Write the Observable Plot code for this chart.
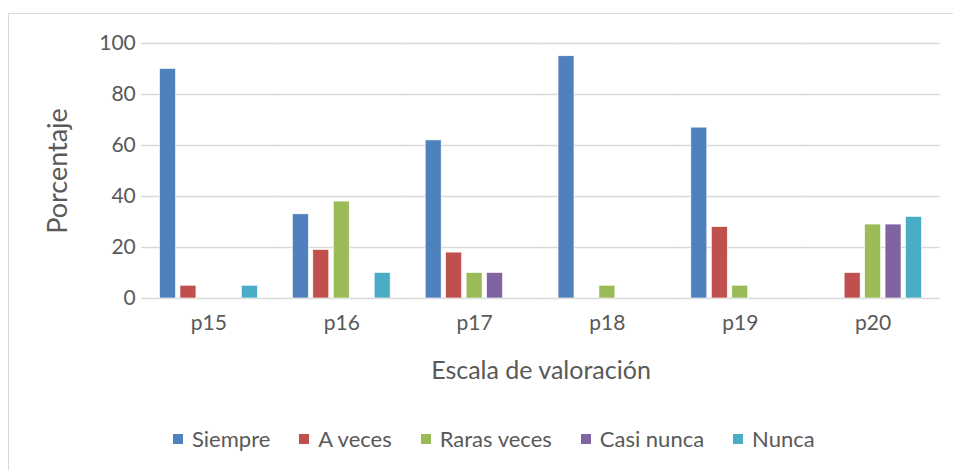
<!DOCTYPE html>
<html><head><meta charset="utf-8">
<script src="https://cdn.jsdelivr.net/npm/d3@7"></script>
<script src="https://cdn.jsdelivr.net/npm/@observablehq/plot@0.6"></script>
<style>
body{margin:0;background:#fff;font-family:Lato,"Noto Sans",sans-serif;}
#wrap{position:relative;width:953px;height:470px;overflow:hidden;}
#frame{position:absolute;left:8px;top:13px;width:1000px;height:500px;border:1.5px solid #d9d9d9;box-sizing:border-box;}
#chart{position:absolute;left:0;top:0;}
#legend{position:absolute;left:173px;top:425px;display:flex;font-size:22px;color:#595959;}
#legend .it{display:flex;align-items:center;margin-right:29px;}
#legend .sw{width:10px;height:10px;margin-right:9px;}
</style></head>
<body><div id="wrap"><div id="frame"></div><div id="chart"></div><div id="legend"></div></div>
<script>
const categories = ["p15","p16","p17","p18","p19","p20"];
const seriesNames = ["Siempre","A veces","Raras veces","Casi nunca","Nunca"];
const siempre    = [90, 33, 62, 95, 67, 0];
const aVeces     = [5, 19, 18, 0, 28, 10];
const rarasVeces = [0, 38, 10, 5, 5, 29];
const casiNunca  = [0, 0, 10, 0, 0, 29];
const nunca      = [5, 10, 0, 0, 0, 32];
const yTicks = [0, 20, 40, 60, 80, 100];
const colors = ["#4F81BD","#C0504D","#9BBB59","#8064A2","#4BACC6"];

const seriesValues = [siempre, aVeces, rarasVeces, casiNunca, nunca];
const data = [];
categories.forEach((c, i) => seriesNames.forEach((s, j) => data.push({cat: c, series: s, value: seriesValues[j][i]})));

const plot = Plot.plot({
  width: 953, height: 400,
  marginLeft: 142, marginRight: 14, marginTop: 43, marginBottom: 102,
  style: {fontFamily: "Lato, 'Noto Sans', sans-serif", fontSize: "21px", color: "#595959", background: "transparent"},
  fx: {domain: categories, paddingInner: 0.23, paddingOuter: 0.115, round: false, axis: null},
  x: {domain: seriesNames, paddingInner: 0.22, paddingOuter: 0.11, round: false, axis: null},
  y: {domain: [0, 100], axis: null},
  color: {domain: seriesNames, range: colors},
  marks: [
    Plot.ruleY(yTicks, {stroke: "#d9d9d9", strokeWidth: 1.5, strokeOpacity: 1, insetLeft: -16, insetRight: -16}),
    Plot.barY(data.filter(d => d.value > 0), {fx: "cat", x: "series", y: "value", fill: "series", stroke: "#ffffff", strokeWidth: 0.6, inset: 0}),
    Plot.axisY({ticks: yTicks, tickSize: 0, tickPadding: 22, label: "Porcentaje", labelAnchor: "center", labelOffset: 110, fontSize: 21}),
    Plot.axisFx({anchor: "bottom", tickSize: 0, tickPadding: 17, label: "Escala de valoración", labelAnchor: "center", labelOffset: 80, fontSize: 21})
  ]
});
plot.querySelectorAll("text").forEach(t => {
  if (t.textContent.includes("Porcentaje") || t.textContent.includes("Escala")) {
    t.textContent = t.textContent.replace(/\s*[→↑↓←]\s*/g, "").trim();
    t.setAttribute("font-size", t.textContent.includes("Porcentaje") ? "27px" : "25px");
  }
});
document.getElementById("chart").appendChild(plot);

const lg = document.getElementById("legend");
seriesNames.forEach((s, i) => {
  const it = document.createElement("div"); it.className = "it";
  const sw = document.createElement("div"); sw.className = "sw"; sw.style.background = colors[i];
  const tx = document.createElement("span"); tx.textContent = s;
  it.appendChild(sw); it.appendChild(tx); lg.appendChild(it);
});
</script></body></html>
